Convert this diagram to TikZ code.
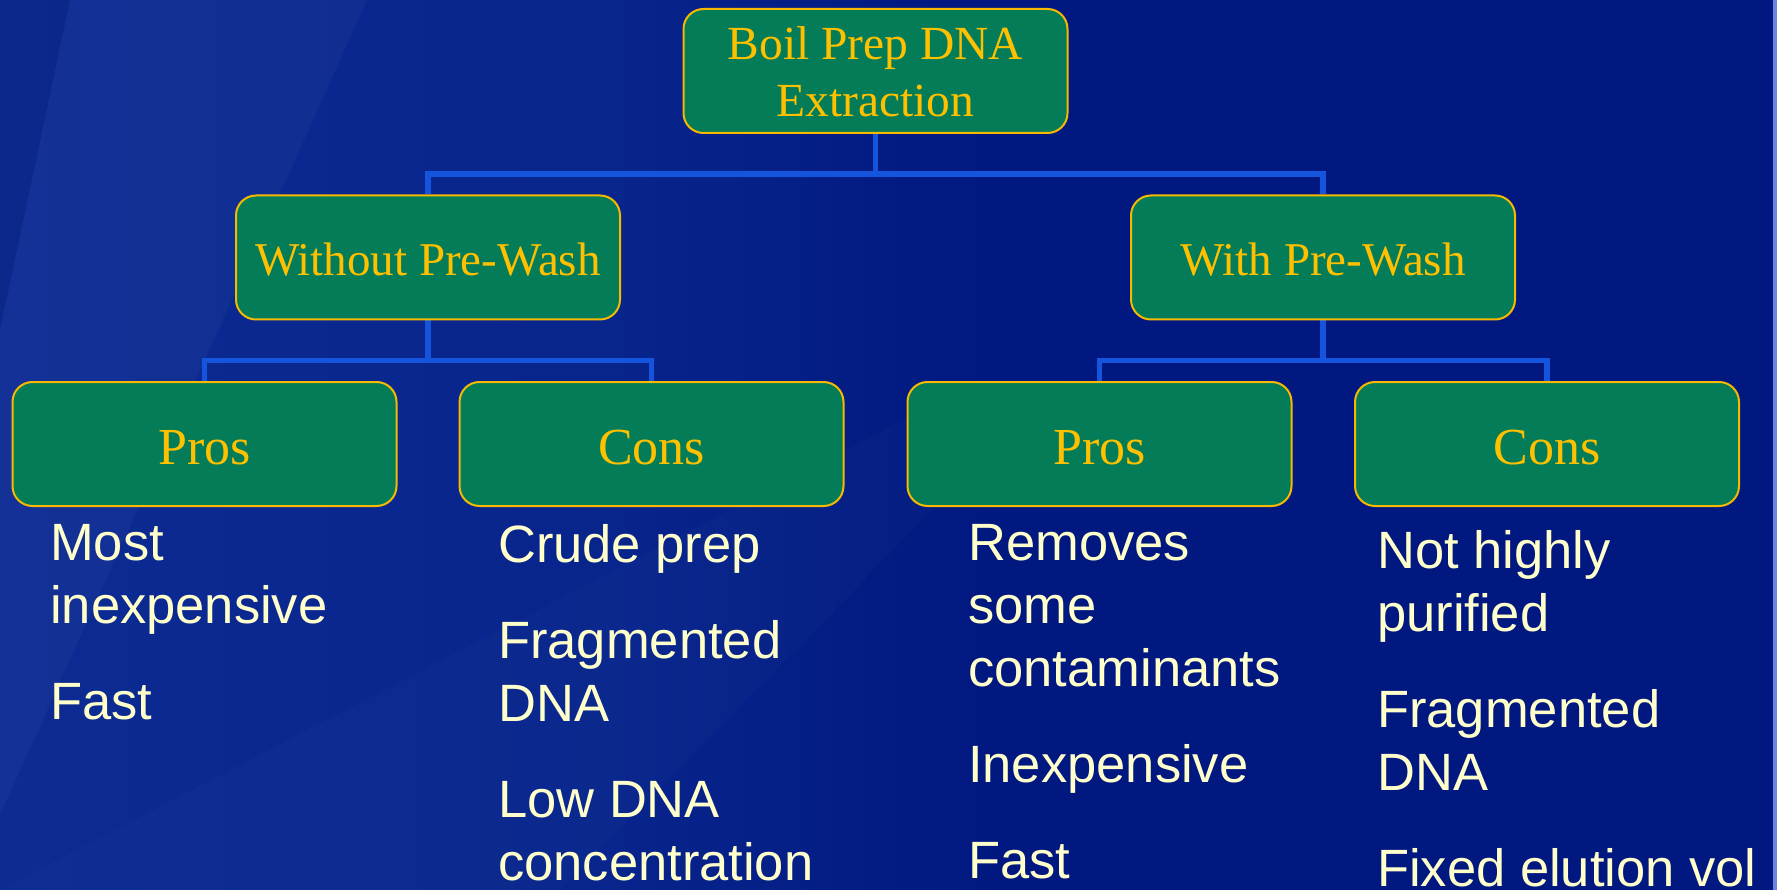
\documentclass[tikz,border=0pt]{standalone}
\usepackage{fontspec}
\setmainfont{Liberation Serif}
\newfontfamily\arialf{Liberation Sans}
\definecolor{bgdark}{HTML}{00187F}
\definecolor{bglight}{HTML}{0C2B93}
\definecolor{boxfill}{HTML}{037C57}
\definecolor{boxline}{HTML}{F7B900}
\definecolor{gold}{HTML}{FFC000}
\definecolor{cream}{HTML}{FFFFCC}
\definecolor{connblue}{HTML}{1555DD}
\definecolor{edgeblue}{HTML}{6C84E0}
\pgfdeclarelayer{bg}
\pgfdeclarelayer{lines}
\pgfsetlayers{bg,lines,main}
\tikzset{
  box/.style={draw=boxline, line width=2pt, fill=boxfill, rounded corners=20pt,
    minimum width=384pt, minimum height=124pt, inner sep=0pt, text=gold, align=center},
  lvltop/.style={box, font=\fontsize{47.5}{57}\selectfont, text height=40pt, text depth=62pt},
  lvltwo/.style={box, font=\fontsize{47}{56.4}\selectfont, text height=37pt, text depth=0pt},
  lvlthree/.style={box, font=\fontsize{52}{62}\selectfont, text height=40pt, text depth=0pt},
  conn/.style={draw=connblue, line width=5.5pt},
  body/.style={anchor=north west, inner sep=0pt, align=left, text=cream,
    font=\arialf\fontsize{52.5}{63}\selectfont},
}
\begin{document}
\begin{tikzpicture}[x=1pt,y=-1pt]
\useasboundingbox (0,0) rectangle (1777,890);
\begin{pgfonlayer}{bg}
  \shade[left color=bglight, right color=bgdark, shading angle=90] (0,0) rectangle (1777,890);
  \fill[bgdark] (1000,0) rectangle (1777,890);
  \shade[left color=bglight!70!bgdark, right color=bgdark] (600,0) rectangle (1000,890);
  \fill[white, opacity=0.03] (70,0) -- (367,0) -- (0,815) -- (0,330) -- cycle;
  \fill[black, opacity=0.06] (0,0) -- (70,0) -- (0,330) -- cycle;
  \fill[white, opacity=0.015] (0,890) -- (560,890) -- (1060,380) -- (980,380) -- cycle;
  \fill[edgeblue] (1773,0) rectangle (1777,890);
\end{pgfonlayer}

\node[lvltop] (top) at (875.5,71) {\begin{tabular}[t]{@{}c@{}}Boil Prep DNA\\Extraction\end{tabular}};

\node[lvltwo] (wo) at (428,257.5) {Without Pre-Wash};
\node[lvltwo] (w) at (1323,257.5) {With Pre-Wash};

\node[lvlthree] (p1) at (204.5,444) {Pros};
\node[lvlthree] (c1) at (651.5,444) {Cons};
\node[lvlthree] (p2) at (1099.5,444) {Pros};
\node[lvlthree] (c2) at (1547,444) {Cons};

\begin{pgfonlayer}{lines}
  \draw[conn] (top.south) -- ++(0,40) -| (wo.north);
  \draw[conn] (top.south) -- ++(0,40) -| (w.north);
  \draw[conn] (wo.south) -- ++(0,40) -| (p1.north);
  \draw[conn] (wo.south) -- ++(0,40) -| (c1.north);
  \draw[conn] (w.south) -- ++(0,40) -| (p2.north);
  \draw[conn] (w.south) -- ++(0,40) -| (c2.north);
\end{pgfonlayer}

\node[body] (tp1) at (50,524) {Most\\inexpensive\\[33pt]Fast};
\node[body] (tc1) at (498,524.5) {Crude prep\\[33pt]Fragmented\\DNA\\[33pt]Low DNA\\concentration};
\node[body] (tp2) at (968,524) {Removes\\some\\contaminants\\[33pt]Inexpensive\\[33pt]Fast};
\node[body] (tc2) at (1377,530.5) {Not highly\\purified\\[33pt]Fragmented\\DNA\\[33pt]Fixed elution vol};
\end{tikzpicture}
\end{document}
